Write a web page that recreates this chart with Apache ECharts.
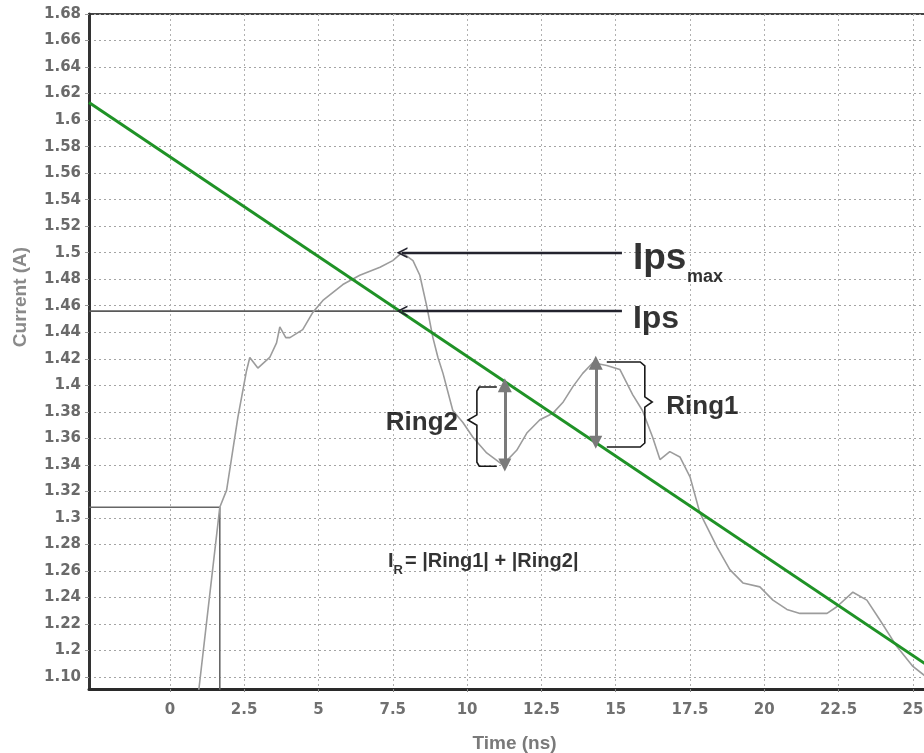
<!DOCTYPE html>
<html>
<head>
<meta charset="utf-8">
<script src="https://cdn.jsdelivr.net/npm/echarts@6/dist/echarts.min.js"></script>
<style>
  html, body { margin: 0; padding: 0; background: #fff; }
  #chart { width: 924px; height: 753px; }
</style>
</head>
<body>
<div id="chart"></div>
<script>
// Time axis ticks (ns)
const xTicks = [0, 2.5, 5, 7.5, 10, 12.5, 15, 17.5, 20, 22.5, 25];
// Current axis ticks (A) and the text printed next to each
const yTicks = [1.18, 1.20, 1.22, 1.24, 1.26, 1.28, 1.30, 1.32, 1.34, 1.36, 1.38, 1.40, 1.42,
                1.44, 1.46, 1.48, 1.50, 1.52, 1.54, 1.56, 1.58, 1.60, 1.62, 1.64, 1.66, 1.68];
const yTickLabels = ['1.10', '1.2', '1.22', '1.24', '1.26', '1.28', '1.3', '1.32', '1.34', '1.36',
                     '1.38', '1.4', '1.42', '1.44', '1.46', '1.48', '1.5', '1.52', '1.54', '1.56',
                     '1.58', '1.6', '1.62', '1.64', '1.66', '1.68'];

// Measured current waveform
const waveTime = [0.87, 1.68, 1.91, 2.29, 2.58, 2.69, 2.96, 3.36, 3.59, 3.70, 3.90, 4.04, 4.47, 4.81,
  5.15, 5.82, 6.39, 7.07, 7.50, 7.81, 8.18, 8.41, 8.65, 8.85, 9.02, 9.19, 9.52, 9.86, 10.19, 10.66,
  11.20, 11.67, 12.01, 12.45, 12.89, 13.22, 13.56, 13.89, 14.23, 14.70, 15.14, 15.57, 15.90, 16.24,
  16.49, 16.82, 17.16, 17.50, 17.83, 18.41, 18.84, 19.28, 19.85, 20.29, 20.76, 21.20, 22.11, 22.44,
  22.98, 23.45, 23.89, 24.46, 25.00, 25.57];
const waveCurrent = [1.150, 1.308, 1.321, 1.376, 1.411, 1.421, 1.413, 1.421, 1.432, 1.444, 1.436,
  1.436, 1.442, 1.455, 1.464, 1.476, 1.483, 1.489, 1.494, 1.500, 1.494, 1.483, 1.459, 1.436, 1.421,
  1.409, 1.381, 1.372, 1.361, 1.349, 1.340, 1.351, 1.364, 1.374, 1.379, 1.387, 1.399, 1.409, 1.417,
  1.415, 1.412, 1.393, 1.381, 1.361, 1.344, 1.350, 1.346, 1.331, 1.304, 1.278, 1.261, 1.251, 1.248,
  1.238, 1.231, 1.228, 1.228, 1.233, 1.244, 1.238, 1.223, 1.203, 1.188, 1.178];

// Straight decay fit through the settling waveform
const fitTime = [-2.72, 25.44];
const fitCurrent = [1.6132, 1.1896];

// Trigger level and trigger instant
const triggerCurrent = 1.308;
const triggerTime = 1.68;

// Peak sense current (Ips max) and sense current (Ips)
const ipsMax = 1.500;
const ipsMaxTime = 7.81;
const ips = 1.456;
const ipsTime = 7.81;

// Ringing amplitudes: time of the measurement, upper and lower level
const ring1 = { time: 14.33, high: 1.417, low: 1.357 };
const ring2 = { time: 11.27, high: 1.400, low: 1.340 };

const X_MIN = -2.72, X_MAX = 25.44, Y_MIN = 1.171, Y_MAX = 1.68;

const sansBold = '"Liberation Sans", Arial, sans-serif';
const tickFamily = '"DejaVu Sans", Verdana, sans-serif';
const openArrow = 'path://M0,10 L5,0 L10,10 L8.4,10 L5,3.2 L1.6,10 Z';

const zip = (a, b) => a.map((v, i) => [v, b[i]]);

// Curly brace beside a ring measurement: arm ends, stem, pointed tip
function brace(armT, stemT, tipT, top, tipV, bottom) {
  const r = (stemT - armT) * 0.12;
  const dv = 0.003;
  return [
    [armT, top], [stemT - r, top], [stemT, top - dv],
    [stemT, tipV + dv * 1.3], [tipT, tipV], [stemT, tipV - dv * 1.3],
    [stemT, bottom + dv], [stemT - r, bottom], [armT, bottom]
  ];
}

function textSeries(coord, text, opts) {
  return {
    type: 'scatter', silent: true, symbolSize: 0, z: 20,
    data: [coord],
    label: Object.assign({
      show: true, position: 'right', distance: 0,
      formatter: text, color: '#000', fontFamily: sansBold, fontWeight: 'bold'
    }, opts)
  };
}

function arrowSeries(from, to, color, width, symbols, size) {
  return {
    type: 'lines', coordinateSystem: 'cartesian2d', silent: true, z: 15,
    symbol: symbols, symbolSize: size,
    lineStyle: { color: color, width: width, opacity: 1 },
    data: [{ coords: [from, to] }]
  };
}

const chart = echarts.init(document.getElementById('chart'));

chart.setOption({
  animation: false,
  backgroundColor: '#fff',
  grid: {
    left: 89, right: -2, top: 14, bottom: 64,
    show: true, borderColor: '#444', borderWidth: 2, backgroundColor: '#fff',
    outerBoundsMode: 'none'
  },
  xAxis: {
    type: 'value', min: X_MIN, max: X_MAX,
    name: 'Time (ns)', nameLocation: 'middle', nameGap: 45,
    nameTextStyle: { fontFamily: sansBold, fontWeight: 'bold', fontSize: 19, color: '#7a7a7a', padding: [0, 0, 0, 14] },
    axisLine: { show: true, onZero: false, lineStyle: { color: '#2a2a2a', width: 3 } },
    axisTick: { show: true, customValues: xTicks, length: 3, lineStyle: { color: '#888' } },
    axisLabel: {
      customValues: xTicks, margin: 14,
      fontFamily: tickFamily, fontWeight: 'bold', fontSize: 15, color: '#707070',
      formatter: v => String(v)
    },
    splitLine: { show: true, lineStyle: { color: '#b0b0b0', type: [2, 3], width: 1 } }
  },
  yAxis: {
    type: 'value', min: Y_MIN, max: Y_MAX,
    axisLine: { show: true, onZero: false, lineStyle: { color: '#333', width: 3 } },
    axisTick: { show: true, customValues: yTicks, length: 4, lineStyle: { color: '#999' } },
    axisLabel: {
      customValues: yTicks, margin: 8,
      fontFamily: tickFamily, fontWeight: 'bold', fontSize: 15, color: '#6a6a6a',
      formatter: v => {
        const i = yTicks.findIndex(t => Math.abs(t - v) < 1e-6);
        return i >= 0 ? yTickLabels[i] : '';
      }
    },
    splitLine: { show: true, lineStyle: { color: '#a4a4a4', type: [2, 3], width: 1 } }
  },
  graphic: [{
    type: 'text', x: 21, y: 297, rotation: Math.PI / 2, silent: true,
    style: {
      text: 'Current (A)', textAlign: 'center', textVerticalAlign: 'middle',
      font: 'bold 19px ' + sansBold, fill: '#8a8a8a'
    }
  }],
  series: [
    // trigger level and trigger instant
    {
      type: 'line', silent: true, symbol: 'none', z: 3,
      lineStyle: { color: '#666', width: 1.6 },
      data: [[X_MIN, triggerCurrent], [triggerTime, triggerCurrent], [triggerTime, 1.10]]
    },
    // Ips level
    {
      type: 'line', silent: true, symbol: 'none', z: 3,
      lineStyle: { color: '#5a5a5a', width: 1.8 },
      data: [[X_MIN, ips], [ipsTime, ips]]
    },
    // measured waveform
    {
      type: 'line', silent: true, symbol: 'none', z: 4,
      lineStyle: { color: '#9c9c9c', width: 1.6 },
      data: zip(waveTime, waveCurrent)
    },
    // decay fit
    {
      type: 'line', silent: true, symbol: 'none', z: 6,
      lineStyle: { color: '#1f9226', width: 3 },
      data: zip(fitTime, fitCurrent)
    },
    // Ips max / Ips pointers
    arrowSeries([15.21, ipsMax], [ipsMaxTime, ipsMax], '#23232e', 2.4, ['none', openArrow], [11, 11]),
    arrowSeries([15.21, ips], [ipsTime, ips], '#23232e', 2.4, ['none', openArrow], [11, 11]),
    // ringing amplitude markers
    arrowSeries([ring2.time, ring2.high], [ring2.time, ring2.low], '#7a7a7a', 3, ['triangle', 'triangle'], [14, 13]),
    arrowSeries([ring1.time, ring1.high], [ring1.time, ring1.low], '#7a7a7a', 3, ['triangle', 'triangle'], [14, 13]),
    // braces
    {
      type: 'lines', coordinateSystem: 'cartesian2d', polyline: true, silent: true, z: 14,
      lineStyle: { color: '#1a1a1a', width: 1.6, opacity: 1 },
      data: [
        { coords: brace(ring2.time - 0.27, ring2.time - 0.94, ring2.time - 1.24, ring2.high - 0.0013, 1.3738, ring2.low - 0.001) },
        { coords: brace(ring1.time + 0.37, ring1.time + 1.65, ring1.time + 1.9, ring1.high + 0.0006, 1.3874, ring1.low - 0.0035) }
      ]
    },
    textSeries([15.21, ipsMax], 'Ips', { fontSize: 37, offset: [11, 6] }),
    textSeries([15.21, ipsMax], 'max', { fontSize: 18, offset: [65, 24] }),
    textSeries([15.21, ips], 'Ips', { fontSize: 32, offset: [11, 8] }),
    textSeries([ring2.time - 1.24, 1.3738], 'Ring2', { position: 'left', fontSize: 26, offset: [-10, 3] }),
    textSeries([ring1.time + 1.9, 1.3874], 'Ring1', { fontSize: 26, offset: [14, 5] }),
    textSeries([7.34, 1.2682], '{i|I}{r|R}{t|= |Ring1| + |Ring2|}', {
      offset: [0, 4],
      rich: {
        i: { fontFamily: sansBold, fontWeight: 'bold', fontSize: 20, color: '#000', lineHeight: 24, verticalAlign: 'top' },
        r: { fontFamily: sansBold, fontWeight: 'bold', fontSize: 13, color: '#000', verticalAlign: 'top', padding: [12, 2, 0, 0] },
        t: { fontFamily: sansBold, fontWeight: 'bold', fontSize: 20, color: '#000', lineHeight: 24, verticalAlign: 'top' }
      }
    })
  ]
});
</script>
</body>
</html>
